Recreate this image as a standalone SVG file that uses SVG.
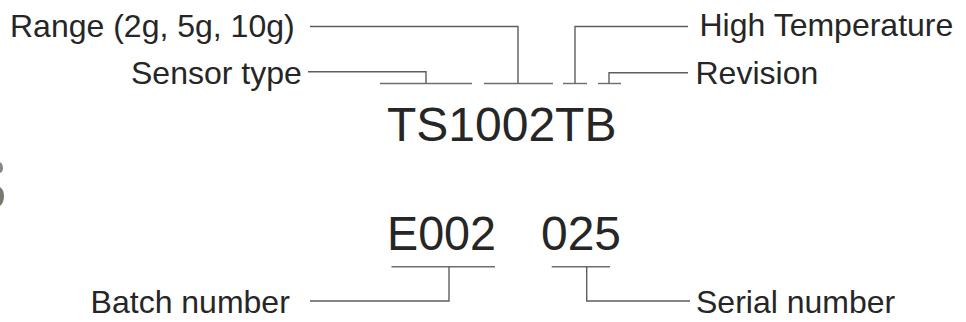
<svg xmlns="http://www.w3.org/2000/svg" width="966" height="322" viewBox="0 0 966 322">
  <style>
    .lbl { font-family: "Liberation Sans", Arial, sans-serif; font-size: 32px; fill: #262626; }
    .code { font-family: "Liberation Sans", Arial, sans-serif; font-size: 48px; fill: #262626; }
    .ln { fill: none; stroke: #5e5e5e; stroke-width: 1.4; }
    .ul { fill: none; stroke: #6e6e6e; stroke-width: 1.4; }
  </style>
  <rect width="966" height="322" fill="#ffffff"/>
  <g id="edge-artifact">
    <path d="M0 162 Q3 164 3 168 Q3 172 0 173 Z" fill="#6a6a60" opacity="0.8"/>
    <path d="M0 187 Q4 190 4 196 Q4 203 0 206 Z" fill="#5f6355" opacity="0.85"/>
  </g>
  <g id="code-ts1002tb"><text class="code" x="387" y="141">TS1002TB</text></g>
  <g id="code-e002"><text class="code" x="387" y="250" textLength="109" lengthAdjust="spacingAndGlyphs">E002</text></g>
  <g id="code-025"><text class="code" x="541" y="250" textLength="80" lengthAdjust="spacingAndGlyphs">025</text></g>
  <g id="label-range"><text class="lbl" x="10" y="37">Range (2g, 5g, 10g)</text></g>
  <g id="label-sensor"><text class="lbl" x="131" y="84">Sensor type</text></g>
  <g id="label-hightemp"><text class="lbl" x="699.5" y="36">High Temperature</text></g>
  <g id="label-revision"><text class="lbl" x="695.5" y="84">Revision</text></g>
  <g id="label-batch"><text class="lbl" x="90.6" y="313">Batch number</text></g>
  <g id="label-serial"><text class="lbl" x="696" y="313">Serial number</text></g>
  <g id="connectors">
    <line class="ul" x1="380" y1="83.5" x2="472" y2="83.5"/>
    <line class="ul" x1="484" y1="83.5" x2="553" y2="83.5"/>
    <line class="ul" x1="563" y1="83.5" x2="587" y2="83.5"/>
    <line class="ul" x1="598" y1="83.5" x2="621" y2="83.5"/>
    <polyline class="ln" points="308,71.7 426,71.7 426,83.5"/>
    <polyline class="ln" points="310,26.5 518,26.5 518,83.5"/>
    <polyline class="ln" points="688,26.5 575,26.5 575,83.5"/>
    <polyline class="ln" points="688,72.7 609,72.7 609,83.5"/>
    <line class="ul" x1="391.5" y1="266.7" x2="495" y2="266.7"/>
    <line class="ul" x1="551.7" y1="266.7" x2="610" y2="266.7"/>
    <polyline class="ln" points="310,301 449,301 449,266.7"/>
    <polyline class="ln" points="690,301 586.7,301 586.7,266.7"/>
  </g>
</svg>
